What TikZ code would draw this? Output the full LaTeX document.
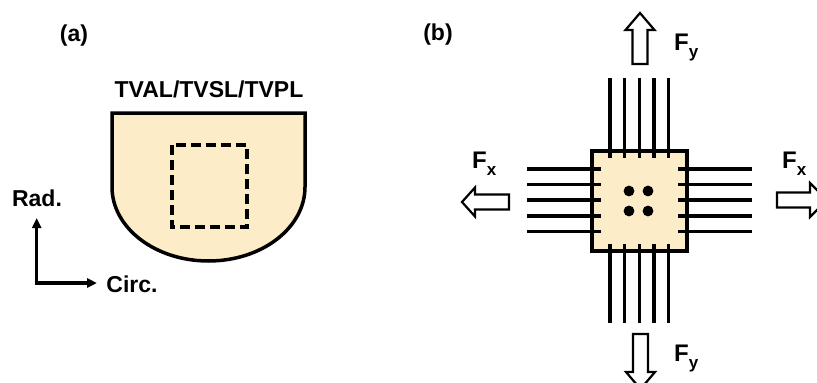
\documentclass[tikz,border=0pt]{standalone}
\usepackage{fontspec}
\setmainfont{Liberation Sans}
\usetikzlibrary{arrows.meta}
\definecolor{beige}{RGB}{252,236,200}
\tikzset{
  lbl/.style={font=\fontsize{23}{26}\selectfont\bfseries, inner sep=0pt},
  flbl/.style={font=\fontsize{24}{26}\selectfont\bfseries, inner sep=0pt, anchor=base west},
  thick3/.style={line width=3.5pt},
  hollow/.style={draw=black, fill=white, line width=2.2pt, line join=miter},
  fib/.style={line width=3.4pt},
  axis/.style={line width=3.5pt, -{Triangle[length=10pt,width=9pt]}},
}
\newcommand{\Fsub}[1]{F\raisebox{-7pt}{\fontsize{17}{18}\selectfont #1}}
\begin{document}
\begin{tikzpicture}[x=1pt,y=-1pt]
\useasboundingbox (0,0) rectangle (817,383);
\clip (0,0) rectangle (817,383);
% ---------------- (a)
\node[lbl] (la) at (74,36) {(a)};
\node[lbl] (title) at (209,89) {TVAL/TVSL/TVPL};
\draw[thick3, fill=beige, line join=miter] (112,113) -- (305,113) -- (305,187)
   arc[start angle=0, end angle=180, x radius=96.5, y radius=74] -- cycle;
\draw[line width=3.8pt, dash pattern=on 10pt off 5pt] (172,145) rectangle (247,227);
% axes
\coordinate (o) at (36.7,283);
\coordinate (up) at (36.7,218);
\coordinate (rt) at (97,283);
\draw[axis] ([yshift=-1.75pt]o) -- (up);
\draw[axis] ([xshift=-1.75pt]o) -- (rt);
\node[lbl] (rad) at (37,198) {Rad.};
\node[lbl] (circ) at (132,284) {Circ.};
% ---------------- (b)
\node[lbl] (lb) at (438,35) {(b)};
\foreach \x in {610,624.7,639.3,654,668.7}{
  \draw[fib] (\x,78) -- (\x,158);
  \draw[fib] (\x,243) -- (\x,323);
}
\foreach \y in {169,184.5,200,216,231.5}{
  \draw[fib] (527,\y) -- (601,\y);
  \draw[fib] (678,\y) -- (752,\y);
}
\fill[beige] (594,153) rectangle (685,249);
\foreach \x in {610,624.7,639.3,654,668.7}{
  \draw[fib] (\x,151) -- (\x,158);
  \draw[fib] (\x,244) -- (\x,251);
}
\foreach \y in {169,184.5,200,216,231.5}{
  \draw[fib] (592,\y) -- (601,\y);
  \draw[fib] (678,\y) -- (687,\y);
}
\node[draw, line width=3.5pt, minimum width=95pt, minimum height=100pt, inner sep=0pt] (box) at (639.5,201) {};
\foreach \p in {(629,191),(648,191),(629,211),(648,211)}
  \fill \p circle (5.4pt);
% hollow arrows
\draw[hollow] (640,13) -- (654.5,30) -- (647.5,30) -- (647.5,64) -- (632.5,64) -- (632.5,30) -- (625.5,30) -- cycle;
\draw[hollow] (640.5,389) -- (655,372) -- (648,372) -- (648,334) -- (633,334) -- (633,372) -- (626,372) -- cycle;
\draw[hollow] (462,202) -- (475,187.5) -- (475,194.5) -- (509,194.5) -- (509,209.5) -- (475,209.5) -- (475,216.5) -- cycle;
\draw[hollow] (827,200) -- (810,183) -- (810,192.5) -- (777,192.5) -- (777,207.5) -- (810,207.5) -- (810,217) -- cycle;
\node[flbl] (fyt) at (674,50) {\Fsub{y}};
\node[flbl] (fyb) at (674,361) {\Fsub{y}};
\node[flbl] (fxl) at (472,168) {\Fsub{x}};
\node[flbl] (fxr) at (782,168) {\Fsub{x}};
\end{tikzpicture}
\end{document}
